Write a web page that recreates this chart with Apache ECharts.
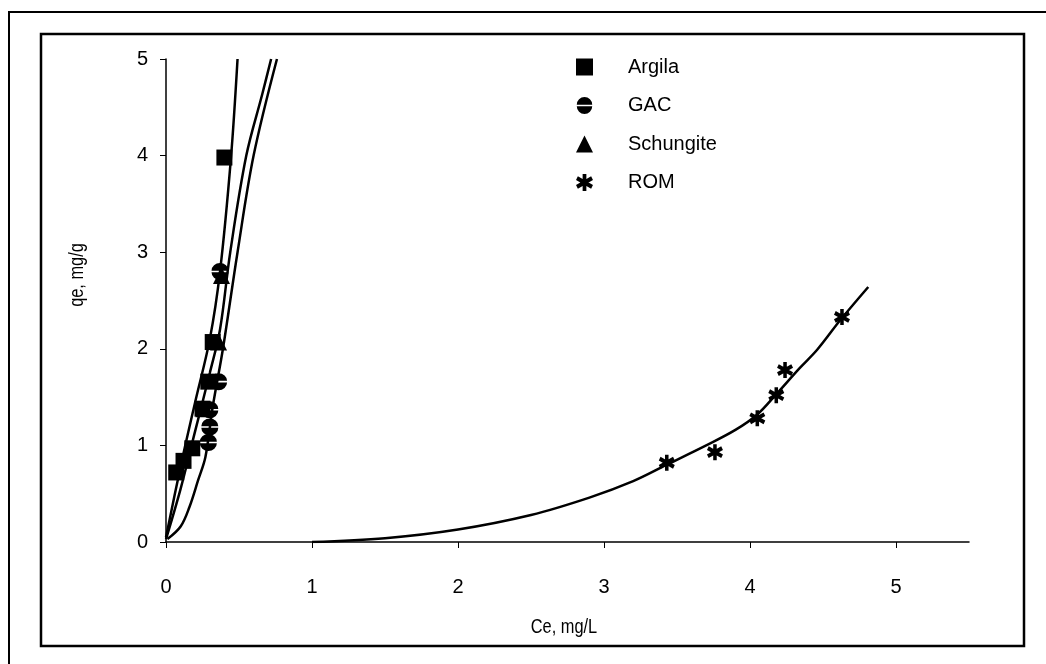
<!DOCTYPE html>
<html>
<head>
<meta charset="utf-8">
<script src="https://cdn.jsdelivr.net/npm/echarts@6/dist/echarts.min.js"></script>
<style>
html,body{margin:0;padding:0;background:#fff;}
#chart{width:1046px;height:664px;}
</style>
</head>
<body>
<div id="chart"></div>
<script>
// Observed data (x = Ce, mg/L ; y = qe, mg/g)
const argila = [[0.07,0.72],[0.12,0.84],[0.18,0.97],[0.25,1.38],[0.29,1.66],[0.32,2.07],[0.40,3.98]];
const gac = [[0.29,1.03],[0.30,1.19],[0.30,1.37],[0.36,1.66],[0.37,2.80]];
const schungite = [[0.26,1.38],[0.36,2.07],[0.38,2.76]];
const rom = [[3.43,0.82],[3.76,0.93],[4.05,1.28],[4.18,1.52],[4.24,1.78],[4.63,2.33]];

// Fitted curves
const argilaFit = [[0,0.05],[0.1,0.78],[0.2,1.45],[0.3,2.1],[0.37,2.8],[0.445,3.98],[0.49,5.0]];
const schungiteFit = [[0,0.03],[0.1,0.55],[0.2,1.15],[0.3,1.75],[0.37,2.2],[0.44,3.0],[0.55,4.0],[0.66,4.64],[0.72,5.0]];
const gacFit = [[0.01,0.03],[0.1,0.16],[0.16,0.36],[0.22,0.64],[0.27,0.88],[0.32,1.4],[0.39,2.0],[0.49,3.0],[0.6,4.0],[0.76,5.0]];
const romFit = [[1.0,0],[1.5,0.04],[2.0,0.13],[2.5,0.28],[2.9,0.46],[3.2,0.63],[3.43,0.8],[3.7,1.0],[3.9,1.16],[4.05,1.32],[4.18,1.53],[4.34,1.8],[4.46,1.99],[4.62,2.3],[4.81,2.64]];

const xTicks = [0,1,2,3,4,5];
const seriesNames = ['Argila','GAC','Schungite','ROM'];
const xTitle = 'Ce, mg/L';
const yTitle = 'qe, mg/g';

const FONT = "'Liberation Sans', Arial, sans-serif";

const gacSymbol = 'path://M0,4.6 A5,5 0 0 1 10,4.6 Z M0,5.6 A5,5 0 0 0 10,5.6 Z';
const romSymbol = 'path://M3.9,0 L6.1,0 L6.1,10 L3.9,10 Z M1.1,1.3 L9.99,6.4 L8.9,8.7 L0.01,3.6 Z M0.01,6.4 L8.9,1.3 L9.99,3.6 L1.1,8.7 Z';

function fitLine(data){
  return {type:'line', data:data, smooth:0.35, showSymbol:false, symbol:'none',
    lineStyle:{color:'#000', width:2.5}, z:2, silent:true, legendHoverLink:false};
}
function pts(name, data, symbol, size){
  return {type:'scatter', name:name, data:data, symbol:symbol, symbolSize:size,
    itemStyle:{color:'#000', opacity:1}, z:5};
}

const chart = echarts.init(document.getElementById('chart'));
chart.setOption({
  animation:false,
  backgroundColor:'#fff',
  grid:{left:166, right:77, top:59, bottom:122, containLabel:false},
  xAxis:{
    type:'value', min:0, max:5.5, interval:1,
    axisLine:{show:true, lineStyle:{color:'#000', width:1.5}},
    axisTick:{show:true, inside:false, length:6, lineStyle:{color:'#000'}, customValues:xTicks},
    axisLabel:{color:'#000', fontFamily:FONT, fontSize:20, margin:35, customValues:xTicks},
    splitLine:{show:false}
  },
  yAxis:{
    type:'value', min:0, max:5, interval:1,
    axisLine:{show:true, lineStyle:{color:'#000', width:1.5}},
    axisTick:{show:true, inside:false, length:6, lineStyle:{color:'#000'}},
    axisLabel:{color:'#000', fontFamily:FONT, fontSize:20, margin:18},
    splitLine:{show:false}
  },
  legend:{
    data:seriesNames, orient:'vertical', left:571, top:52,
    itemWidth:17, itemHeight:17, itemGap:18.5,
    textStyle:{fontFamily:FONT, fontSize:20, color:'#000', padding:[0,0,0,30]},
    selectedMode:false
  },
  graphic:[
    {type:'rect', shape:{x:9, y:12, width:1060, height:680}, style:{fill:'none', stroke:'#000', lineWidth:2}, silent:true},
    {type:'rect', shape:{x:41, y:34, width:983, height:612}, style:{fill:'none', stroke:'#000', lineWidth:2.5}, silent:true},
    {type:'text', x:77, y:275, rotation:Math.PI/2, scaleX:0.78,
     style:{text:yTitle, font:"21px 'Liberation Sans', Arial", fill:'#000', align:'center', verticalAlign:'middle'}},
    {type:'text', x:564, y:627, scaleX:0.78,
     style:{text:xTitle, font:"21px 'Liberation Sans', Arial", fill:'#000', align:'center', verticalAlign:'middle'}}
  ],
  series:[
    fitLine(argilaFit),
    fitLine(schungiteFit),
    fitLine(gacFit),
    fitLine(romFit),
    pts('Argila', argila, 'rect', 16),
    pts('GAC', gac, gacSymbol, 17),
    pts('Schungite', schungite, 'triangle', 17),
    pts('ROM', rom, romSymbol, 16)
  ]
});
</script>
</body>
</html>
